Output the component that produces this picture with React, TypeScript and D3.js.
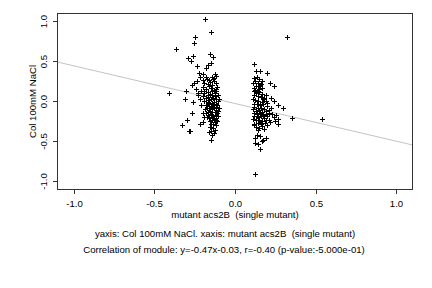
import React from 'react'
import * as d3 from 'd3'

// points: [x, y]
const leftCluster: [number, number][] = [
  [-0.186, 1.02], [-0.149, 0.86], [-0.247, 0.8], [-0.253, 0.725], [-0.366, 0.65], [-0.29, 0.54],
  [-0.259, 0.56], [-0.271, 0.5], [-0.155, 0.59], [-0.139, 0.55], [-0.238, 0.44], [-0.18, 0.41],
  [-0.166, 0.45], [-0.151, 0.47], [-0.222, 0.35], [-0.199, 0.34], [-0.217, 0.3], [-0.124, 0.34],
  [-0.118, 0.31], [-0.13, 0.29], [-0.18, 0.3], [-0.253, 0.22], [-0.269, 0.2], [-0.238, 0.25],
  [-0.197, 0.26], [-0.155, 0.24], [-0.137, 0.275], [-0.408, 0.1], [-0.304, 0.13], [-0.31, 0.03],
  [-0.259, -0.01], [-0.228, 0.075], [-0.269, -0.15], [-0.3, -0.24], [-0.331, -0.3], [-0.217, -0.28],
  [-0.28, -0.37], [-0.286, -0.375], [-0.149, -0.48], [-0.155, -0.325], [-0.137, -0.34], [-0.149, -0.375],
  [-0.124, -0.36], [-0.13, -0.4], [-0.161, -0.39], [-0.143, -0.425],
  [-0.19, 0.22], [-0.17, 0.21], [-0.16, 0.19], [-0.14, 0.2], [-0.12, 0.22], [-0.11, 0.18],
  [-0.2, 0.17], [-0.18, 0.15], [-0.15, 0.16], [-0.13, 0.14], [-0.115, 0.12], [-0.21, 0.12],
  [-0.19, 0.1], [-0.17, 0.11], [-0.155, 0.09], [-0.14, 0.08], [-0.125, 0.1], [-0.105, 0.07],
  [-0.2, 0.06], [-0.18, 0.04], [-0.165, 0.05], [-0.15, 0.03], [-0.135, 0.04], [-0.12, 0.02],
  [-0.1, 0.03], [-0.19, 0.0], [-0.17, -0.01], [-0.16, 0.01], [-0.145, -0.02], [-0.13, -0.01],
  [-0.115, -0.03], [-0.105, 0.0], [-0.18, -0.05], [-0.165, -0.04], [-0.15, -0.06], [-0.135, -0.05],
  [-0.12, -0.07], [-0.11, -0.05], [-0.175, -0.09], [-0.16, -0.08], [-0.145, -0.1], [-0.13, -0.09],
  [-0.115, -0.11], [-0.1, -0.08], [-0.17, -0.13], [-0.155, -0.12], [-0.14, -0.14], [-0.125, -0.13],
  [-0.11, -0.15], [-0.165, -0.17], [-0.15, -0.16], [-0.135, -0.18], [-0.12, -0.17], [-0.105, -0.19],
  [-0.16, -0.21], [-0.145, -0.2], [-0.13, -0.22], [-0.115, -0.21], [-0.155, -0.25], [-0.14, -0.24],
  [-0.125, -0.26], [-0.11, -0.25], [-0.15, -0.29], [-0.135, -0.28], [-0.12, -0.3], [-0.185, -0.1],
  [-0.19, -0.2], [-0.2, -0.15], [-0.21, -0.05], [-0.22, 0.02], [-0.23, 0.1], [-0.24, 0.15],
  [-0.175, 0.27], [-0.16, 0.26], [-0.14, 0.3], [-0.13, 0.25], [-0.2, -0.26], [-0.175, -0.2],
  [-0.19, 0.13], [-0.145, 0.12], [-0.125, 0.06], [-0.16, -0.02], [-0.14, -0.07], [-0.105, -0.12],
  [-0.115, 0.15], [-0.17, 0.07], [-0.18, -0.15], [-0.12, -0.23],
]

const rightCluster: [number, number][] = [
  [0.323, 0.8], [0.12, 0.46], [0.13, 0.375], [0.155, 0.375], [0.2, 0.355], [0.22, 0.22],
  [0.245, 0.19], [0.224, 0.035], [0.245, 0.0], [0.27, -0.05], [0.295, -0.08], [0.356, -0.21],
  [0.54, -0.225], [0.135, -0.42], [0.125, -0.46], [0.155, -0.44], [0.175, -0.48], [0.195, -0.46],
  [0.145, -0.53], [0.125, -0.52], [0.156, -0.6], [0.126, -0.91], [0.165, -0.5],
  [0.12, 0.29], [0.135, 0.3], [0.15, 0.27], [0.125, 0.25], [0.11, 0.22], [0.14, 0.23],
  [0.16, 0.21], [0.13, 0.19], [0.115, 0.16], [0.15, 0.15],
  [0.23, -0.16], [0.255, -0.17], [0.24, -0.2], [0.265, -0.22], [0.25, -0.25], [0.27, -0.28],
  [0.22, -0.26], [0.2, -0.3], [0.21, -0.23],
  [0.115, 0.12], [0.13, 0.1], [0.15, 0.11], [0.17, 0.09], [0.12, 0.07], [0.14, 0.06],
  [0.16, 0.05], [0.18, 0.04], [0.11, 0.03], [0.125, 0.01], [0.145, 0.0], [0.165, -0.01],
  [0.19, 0.0], [0.115, -0.03], [0.135, -0.04], [0.155, -0.05], [0.175, -0.04], [0.2, -0.06],
  [0.12, -0.07], [0.14, -0.08], [0.16, -0.09], [0.18, -0.1], [0.11, -0.1], [0.13, -0.12],
  [0.15, -0.11], [0.17, -0.13], [0.19, -0.12], [0.21, -0.11], [0.115, -0.15], [0.135, -0.16],
  [0.155, -0.15], [0.175, -0.17], [0.195, -0.16], [0.12, -0.19], [0.14, -0.2], [0.16, -0.19],
  [0.18, -0.21], [0.11, -0.22], [0.13, -0.24], [0.15, -0.23], [0.17, -0.25], [0.19, -0.24],
  [0.12, -0.28], [0.14, -0.27], [0.16, -0.29], [0.13, -0.32], [0.15, -0.33], [0.17, -0.31],
  [0.18, -0.35], [0.125, 0.14], [0.145, 0.13], [0.165, 0.16], [0.19, 0.07], [0.2, -0.02],
  [0.135, -0.19], [0.155, -0.26], [0.115, -0.3], [0.175, 0.02], [0.2, -0.19], [0.21, -0.15],
  [0.225, -0.09], [0.185, -0.27], [0.145, -0.36], [0.14, 0.19], [0.155, 0.2], [0.17, 0.25],
]

const xTicks = [-1.0, -0.5, 0.0, 0.5, 1.0]
const yTicks = [-1.0, -0.5, 0.0, 0.5, 1.0]

const fitSlope = -0.47
const fitIntercept = -0.03

const xLabel = 'mutant acs2B  (single mutant)'
const yLabel = 'Col 100mM NaCl'
const subtitle = 'yaxis: Col 100mM NaCl. xaxis: mutant acs2B  (single mutant)'
const corrText = 'Correlation of module: y=-0.47x-0.03, r=-0.40 (p-value:-5.000e-01)'

export default function App() {
  const width = 432
  const height = 288
  const margin = { top: 13, right: 19, bottom: 98, left: 57 }
  const x0 = margin.left
  const x1 = width - margin.right
  const y0 = margin.top
  const y1 = height - margin.bottom

  const xScale = d3.scaleLinear().domain([-1.105, 1.105]).range([x0, x1])
  const yScale = d3.scaleLinear().domain([-1.11, 1.1]).range([y1, y0])

  const points = [...leftCluster, ...rightCluster]
  const [dx0, dx1] = xScale.domain()
  const fitLine = d3.line<number>()
    .x((d) => xScale(d))
    .y((d) => yScale(fitSlope * d + fitIntercept))([dx0, dx1])

  const font = "'Liberation Sans', Arial, sans-serif"
  const fs = 9.6
  const txt = { fontFamily: font, fontSize: fs, fill: '#000', whiteSpace: 'pre' as const }

  return (
    <div style={{ position: 'fixed', left: 0, top: 0 }}>
      <svg width={width} height={height} style={{ display: 'block', background: '#fff' }}>
        <defs>
          <clipPath id="plotClip">
            <rect x={x0} y={y0} width={x1 - x0} height={y1 - y0} />
          </clipPath>
        </defs>
        <path d={fitLine || ''} stroke="#c4c4c4" strokeWidth={1} fill="none" clipPath="url(#plotClip)" />
        {points.map((p, i) => {
          const cx = Math.round(xScale(p[0])) + 0.5
          const cy = Math.round(yScale(p[1])) + 0.5
          return (
            <path key={i} d={`M${cx - 2.5},${cy}H${cx + 2.5}M${cx},${cy - 2.5}V${cy + 2.5}`} stroke="#000" strokeWidth={1} />
          )
        })}
        <rect x={x0 + 0.5} y={y0 + 0.5} width={x1 - x0 - 1} height={y1 - y0 - 1} fill="none" stroke="#333" strokeWidth={1} />

        {/* x axis */}
        {xTicks.map((t) => (
          <g key={t} transform={`translate(${Math.round(xScale(t)) + 0.5},${y1})`}>
            <line y1={0} y2={4} stroke="#333" />
            <text y={17} textAnchor="middle" style={txt}>{t.toFixed(1)}</text>
          </g>
        ))}
        {/* y axis */}
        {yTicks.map((t) => (
          <g key={t} transform={`translate(${x0},${Math.round(yScale(t)) + 0.5})`}>
            <line x1={0} x2={-4} stroke="#333" />
            <text transform="translate(-10,0) rotate(-90)" textAnchor="middle" style={txt}>{t.toFixed(1)}</text>
          </g>
        ))}

        <text x={(x0 + x1) / 2} y={218} textAnchor="middle" style={txt}>{xLabel}</text>
        <text transform={`translate(36,${(y0 + y1) / 2}) rotate(-90)`} textAnchor="middle" style={txt}>{yLabel}</text>
        <text x={225} y={237} textAnchor="middle" style={txt}>{subtitle}</text>
        <text x={224} y={253} textAnchor="middle" style={txt}>{corrText}</text>
      </svg>
    </div>
  )
}
